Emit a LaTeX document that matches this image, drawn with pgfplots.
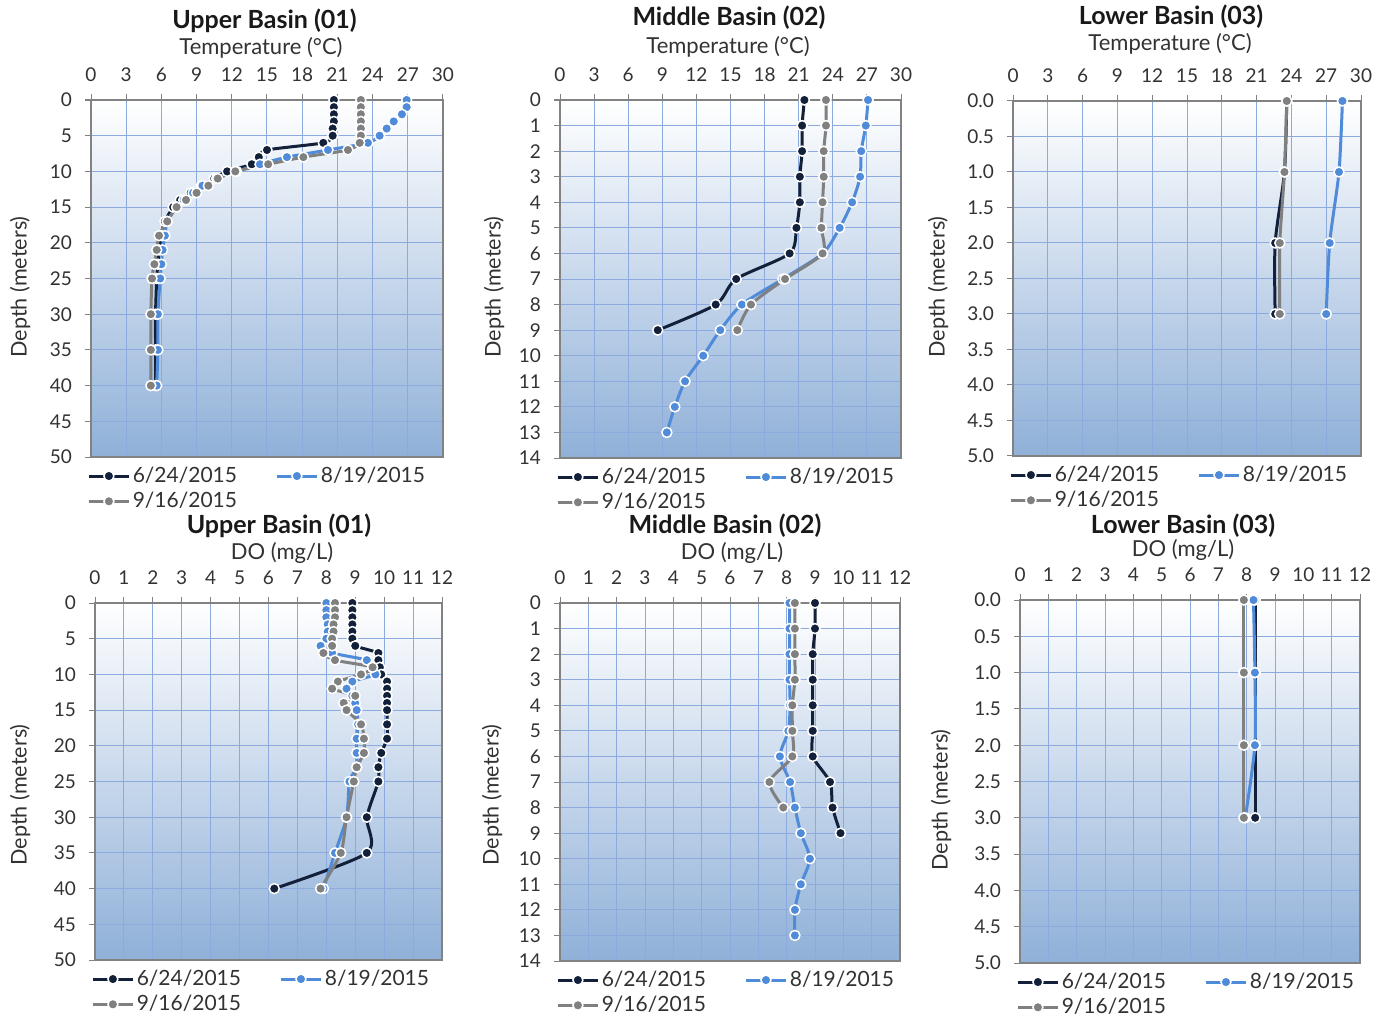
\documentclass[border=0pt]{standalone}
\usepackage{pgfplots}
\pgfplotsset{compat=1.18}
\usepackage{fontspec}
\setmainfont{Lato}
\definecolor{navy}{RGB}{18,32,58}
\definecolor{sblue}{RGB}{79,139,216}
\definecolor{sgray}{RGB}{128,128,128}
\definecolor{axgray}{RGB}{130,130,130}
\definecolor{gridblue}{RGB}{140,170,222}
\definecolor{midblue}{RGB}{218,229,243}
\definecolor{botblue}{RGB}{143,176,216}
\definecolor{txt}{RGB}{50,50,50}
\pgfplotsset{
  prof/.style={
    scale only axis, anchor=north west, y dir=reverse, xmin=0,
    axis line style={draw=axgray, line width=0.9pt},
    grid=major, major grid style={draw=gridblue, line width=0.5pt},
    tick align=outside, major tick length=3pt,
    tick style={draw=axgray, line width=0.5pt},
    xtick pos=right, xticklabel pos=right, ytick pos=left,
    ticklabel style={font=\fontsize{9.5}{10}\selectfont, text=txt},
    xticklabel style={yshift=2.5pt},
    yticklabel style={xshift=-3pt},
    /pgf/number format/assume math mode=true,
    axis background/.style={shade, top color=white, middle color=midblue, bottom color=botblue},
    legend style={at={(0,0)}, anchor=north west, yshift=-3.5pt, xshift=-2pt, draw=none, fill=none,
      font=\fontsize{10.5}{12}\selectfont, text=txt, inner sep=0pt,
      nodes={inner sep=1.2pt}, row sep=1pt,
      /tikz/every even column/.append style={column sep=18pt}},
    legend columns=2,
    legend image code/.code={\draw[##1, mark repeat=2, mark phase=2] plot coordinates {(0pt,0pt) (10pt,0pt) (20pt,0pt)};},
    every axis plot/.append style={line width=1.5pt, mark=*, mark size=2.5pt, smooth, tension=0.45},
  },
  temp/.style={xmax=30, xtick={0,3,...,30}},
  dox/.style={xmax=12, xtick={0,1,...,12}},
  deep/.style={ymin=0, ymax=50, ytick={0,5,...,50}},
  mid/.style={ymin=0, ymax=14, ytick={0,1,...,14}},
  low/.style={ymin=0, ymax=5, ytick={0,0.5,...,5.01},
    yticklabel style={/pgf/number format/.cd, fixed, fixed zerofill, precision=1}},
  s1/.style={color=navy, mark options={fill=navy, draw=white, line width=0.75pt}},
  s2/.style={color=sblue, mark options={fill=sblue, draw=white, line width=0.75pt}},
  s3/.style={color=sgray, mark options={fill=sgray, draw=white, line width=0.75pt}},
}
\newcommand{\ttl}[3]{\node[font=\bfseries\fontsize{12.5}{14}\selectfont, text=black!90] at (#1) {#2};}
\newcommand{\sub}[3]{\node[font=\fontsize{11}{13}\selectfont, text=txt] at (#1) {#2};}
\newcommand{\ylab}[1]{\node[rotate=90, font=\fontsize{10.8}{12}\selectfont, text=txt] at (#1) {Depth (meters)};}
\begin{document}
\begin{tikzpicture}
\useasboundingbox (0,0) rectangle (692.5pt,-507.5pt);
% ---------- P1 Upper temp
\begin{axis}[prof, temp, deep, at={(45.5pt,-50pt)}, width=176pt, height=178.5pt]
\addplot[s1] coordinates {(20.7,0)(20.7,1)(20.7,2)(20.7,3)(20.6,4)(20.6,5)(19.8,6)(15.0,7)(14.3,8)(13.7,9)(11.6,10)(10.5,11)(9.4,12)(8.5,13)(7.6,14)(7.0,15)(6.3,17)(6.0,19)(5.8,21)(5.7,23)(5.6,25)(5.5,30)(5.5,35)(5.5,40)};
\addplot[s2] coordinates {(26.9,0)(26.9,1)(26.5,2)(25.8,3)(25.2,4)(24.6,5)(23.6,6)(20.2,7)(16.7,8)(14.4,9)(12.4,10)(10.7,11)(9.5,12)(8.7,13)(7.9,14)(7.3,15)(6.5,17)(6.3,19)(6.1,21)(6.0,23)(5.9,25)(5.7,30)(5.7,35)(5.6,40)};
\addplot[s3] coordinates {(23.0,0)(23.0,1)(23.0,2)(23.0,3)(23.0,4)(23.0,5)(22.9,6)(21.9,7)(18.1,8)(15.1,9)(12.3,10)(10.8,11)(10.0,12)(9.0,13)(8.1,14)(7.3,15)(6.5,17)(5.8,19)(5.6,21)(5.4,23)(5.2,25)(5.1,30)(5.1,35)(5.1,40)};
\legend{6/24/2015,8/19/2015,9/16/2015}
\end{axis}
% ---------- P2 Middle temp
\begin{axis}[prof, temp, mid, at={(280pt,-50pt)}, width=170.5pt, height=179pt]
\addplot[s1] coordinates {(21.5,0)(21.3,1)(21.3,2)(21.1,3)(21.1,4)(20.8,5)(20.2,6)(15.5,7)(13.7,8)(8.6,9)};
\addplot[s2] coordinates {(27.1,0)(26.9,1)(26.5,2)(26.4,3)(25.7,4)(24.6,5)(23.1,6)(19.6,7)(16.0,8)(14.1,9)(12.6,10)(11.0,11)(10.1,12)(9.4,13)};
\addplot[s3] coordinates {(23.4,0)(23.4,1)(23.2,2)(23.2,3)(23.1,4)(23.0,5)(23.1,6)(19.8,7)(16.8,8)(15.6,9)};
\legend{6/24/2015,8/19/2015,9/16/2015}
\end{axis}
% ---------- P3 Lower temp
\begin{axis}[prof, temp, low, at={(506.5pt,-50.5pt)}, width=174pt, height=177.5pt]
\addplot[s1] coordinates {(23.6,0)(23.4,1)(22.6,2)(22.6,3)};
\addplot[s2] coordinates {(28.4,0)(28.1,1)(27.3,2)(27.0,3)};
\addplot[s3] coordinates {(23.6,0)(23.4,1)(23.0,2)(23.0,3)};
\legend{6/24/2015,8/19/2015,9/16/2015}
\end{axis}
% ---------- P4 Upper DO
\begin{axis}[prof, dox, deep, at={(47.5pt,-301.5pt)}, width=173.5pt, height=178.5pt]
\addplot[s1] coordinates {(8.9,0)(8.9,1)(8.9,2)(8.9,3)(8.9,4)(8.9,5)(9.0,6)(9.8,7)(9.8,8)(9.85,9)(9.9,10)(10.1,11)(10.1,12)(10.1,13)(10.1,14)(10.1,15)(10.1,17)(10.1,19)(9.9,21)(9.8,23)(9.8,25)(9.4,30)(9.4,35)(6.2,40)};
\addplot[s2] coordinates {(8.0,0)(8.0,1)(8.0,2)(8.05,3)(8.05,4)(8.0,5)(7.8,6)(8.2,7)(9.4,8)(9.6,9)(9.7,10)(8.9,11)(8.7,12)(8.9,13)(9.0,14)(9.05,15)(9.1,17)(9.05,19)(9.05,21)(9.05,23)(8.8,25)(8.7,30)(8.3,35)(7.9,40)};
\addplot[s3] coordinates {(8.3,0)(8.3,1)(8.3,2)(8.25,3)(8.25,4)(8.2,5)(8.2,6)(7.9,7)(8.3,8)(9.6,9)(9.2,10)(8.4,11)(8.2,12)(9.0,13)(8.6,14)(8.7,15)(9.2,17)(9.3,19)(9.3,21)(9.05,23)(8.95,25)(8.7,30)(8.5,35)(7.8,40)};
\legend{6/24/2015,8/19/2015,9/16/2015}
\end{axis}
% ---------- P5 Middle DO
\begin{axis}[prof, dox, mid, at={(280pt,-301.5pt)}, width=170pt, height=179pt]
\addplot[s1] coordinates {(9.0,0)(9.0,1)(8.92,2)(8.92,3)(8.92,4)(8.92,5)(8.92,6)(9.53,7)(9.62,8)(9.9,9)};
\addplot[s2] coordinates {(8.1,0)(8.1,1)(8.1,2)(8.1,3)(8.12,4)(8.06,5)(7.76,6)(8.12,7)(8.29,8)(8.5,9)(8.82,10)(8.5,11)(8.29,12)(8.29,13)};
\addplot[s3] coordinates {(8.29,0)(8.29,1)(8.29,2)(8.29,3)(8.2,4)(8.2,5)(8.2,6)(7.39,7)(7.88,8)};
\legend{6/24/2015,8/19/2015,9/16/2015}
\end{axis}
% ---------- P6 Lower DO
\begin{axis}[prof, dox, low, at={(510pt,-300pt)}, width=170pt, height=181.5pt]
\addplot[s1] coordinates {(8.3,0)(8.3,1)(8.3,2)(8.3,3)};
\addplot[s2] coordinates {(8.24,0)(8.29,1)(8.29,2)(7.95,3)};
\addplot[s3] coordinates {(7.9,0)(7.9,1)(7.9,2)(7.9,3)};
\legend{6/24/2015,8/19/2015,9/16/2015}
\end{axis}
% ---------- titles
\ttl{132.25pt,-10.5pt}{Upper Basin (01)}{}
\sub{130.5pt,-24pt}{Temperature (°C)}{}
\ttl{364.5pt,-9pt}{Middle Basin (02)}{}
\sub{364pt,-23.5pt}{Temperature (°C)}{}
\ttl{585.5pt,-8.5pt}{Lower Basin (03)}{}
\sub{585pt,-22pt}{Temperature (°C)}{}
\ttl{139.5pt,-263pt}{Upper Basin (01)}{}
\sub{141pt,-276.5pt}{DO (mg/L)}{}
\ttl{362.5pt,-263pt}{Middle Basin (02)}{}
\sub{366pt,-276.5pt}{DO (mg/L)}{}
\ttl{591.5pt,-263pt}{Lower Basin (03)}{}
\sub{591.5pt,-275pt}{DO (mg/L)}{}
\ylab{10pt,-143.5pt}
\ylab{247pt,-143.5pt}
\ylab{469pt,-143.5pt}
\ylab{10pt,-397.5pt}
\ylab{246pt,-397.5pt}
\ylab{470.5pt,-400pt}
\end{tikzpicture}
\end{document}
